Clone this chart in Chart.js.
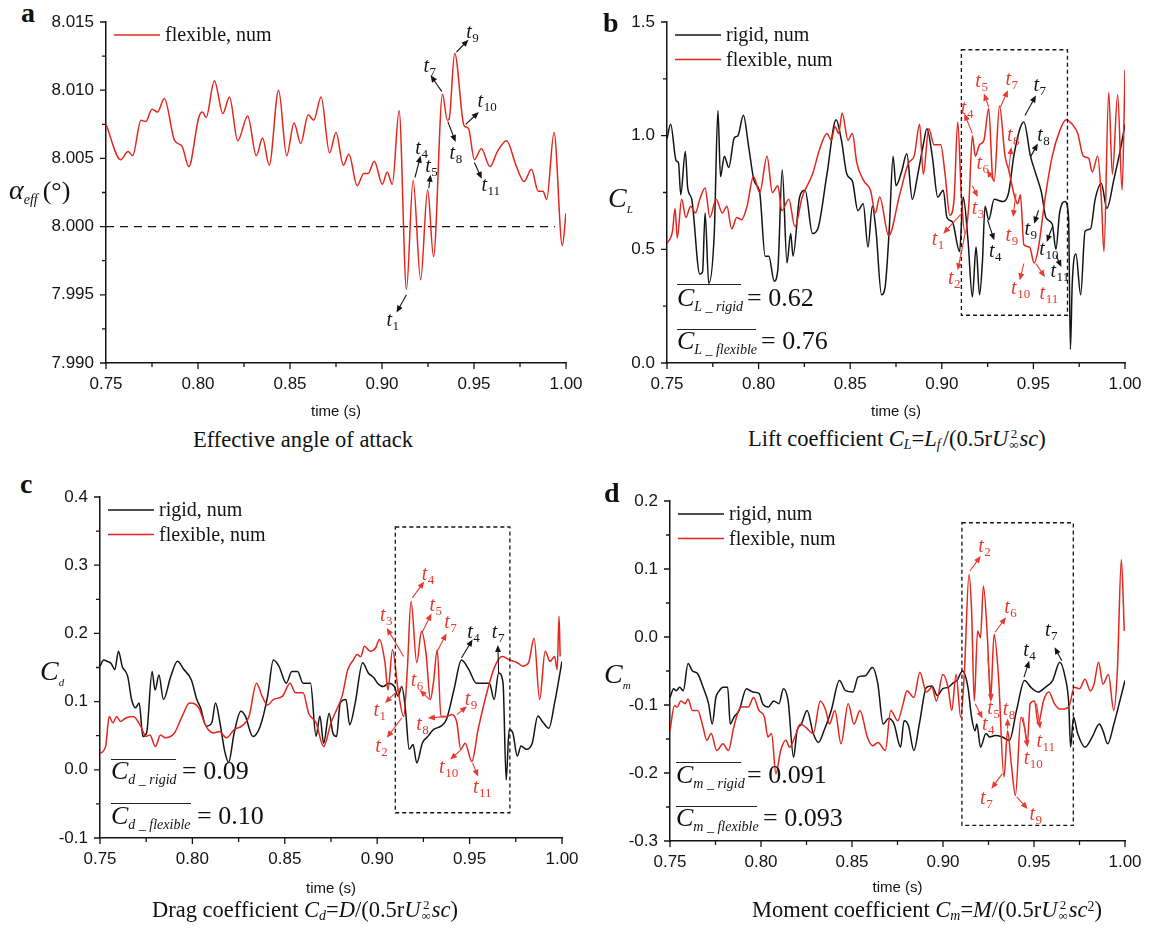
<!DOCTYPE html>
<html lang="en">
<head>
<meta charset="UTF-8">
<title>Effective angle of attack and force coefficients</title>
<script src="https://cdn.jsdelivr.net/npm/chart.js"></script>
<style>
  body { margin: 0; background: #fff; width: 1150px; height: 929px; position: relative; overflow: hidden; }
  canvas { position: absolute; }
  .t { position: absolute; font-family: "Liberation Serif", "Times New Roman", serif; color: #111; white-space: nowrap; line-height: 1; }
  .t sub { font-size: 0.62em; vertical-align: -0.25em; line-height: 0; }
  .t sup { font-size: 0.62em; vertical-align: 0.45em; line-height: 0; }
  .letter { font-weight: bold; font-size: 28px; }
  .cap { font-size: 22.5px; }
  .ov { position: absolute; height: 0; border-top: 1.3px solid #222; }
  .mean sub { font-size: 14px; vertical-align: -5px; font-style: italic; }
  .st { display: inline-flex; flex-direction: column; font-size: 13px; line-height: 11px; vertical-align: 8px; margin: 0 1px; text-align: center; }
</style>
</head>
<body>
<canvas id="chartA" width="550" height="425" style="left:40px;top:0px"></canvas>
<canvas id="chartB" width="548" height="425" style="left:600px;top:0px"></canvas>
<canvas id="chartC" width="556" height="432" style="left:34px;top:470px"></canvas>
<canvas id="chartD" width="544" height="431" style="left:604px;top:470px"></canvas>

<!-- panel letters -->
<div class="t letter" style="left:21px;top:-1px">a</div>
<div class="t letter" style="left:603px;top:9px">b</div>
<div class="t letter" style="left:20px;top:470px">c</div>
<div class="t letter" style="left:604px;top:479px">d</div>

<!-- axis names -->
<div class="t" style="left:9px;top:176px;font-size:28px"><i>α</i><sub style="font-size:14px;vertical-align:-5px"><i>eff</i></sub><span style="font-size:26px;margin-left:5px">(°)</span></div>
<div class="t" style="left:608px;top:184px;font-size:28px"><i>C</i><sub style="font-size:11px;vertical-align:-6px"><i>L</i></sub></div>
<div class="t" style="left:40px;top:657px;font-size:28px"><i>C</i><sub style="font-size:11px;vertical-align:-6px"><i>d</i></sub></div>
<div class="t" style="left:604px;top:660px;font-size:28px"><i>C</i><sub style="font-size:11px;vertical-align:-6px"><i>m</i></sub></div>

<!-- time-averaged values -->
<div class="ov" style="left:677px;top:284px;width:64px"></div>
<div class="t mean" style="left:677px;top:285px;font-size:26px"><i>C</i><sub>L _ rigid</sub></div>
<div class="t" style="left:747px;top:285px;font-size:26px">= 0.62</div>
<div class="ov" style="left:677px;top:329px;width:79px"></div>
<div class="t mean" style="left:677px;top:328px;font-size:26px"><i>C</i><sub>L _ flexible</sub></div>
<div class="t" style="left:761px;top:328px;font-size:26px">= 0.76</div>

<div class="ov" style="left:111px;top:759px;width:65px"></div>
<div class="t mean" style="left:111px;top:758px;font-size:26px"><i>C</i><sub>d _ rigid</sub></div>
<div class="t" style="left:182px;top:758px;font-size:26px">= 0.09</div>
<div class="ov" style="left:111px;top:803px;width:80px"></div>
<div class="t mean" style="left:111px;top:803px;font-size:26px"><i>C</i><sub>d _ flexible</sub></div>
<div class="t" style="left:197px;top:803px;font-size:26px">= 0.10</div>

<div class="ov" style="left:676px;top:762px;width:65px"></div>
<div class="t mean" style="left:676px;top:762px;font-size:26px"><i>C</i><sub>m _ rigid</sub></div>
<div class="t" style="left:747px;top:762px;font-size:26px">= 0.091</div>
<div class="ov" style="left:676px;top:806px;width:81px"></div>
<div class="t mean" style="left:676px;top:805px;font-size:26px"><i>C</i><sub>m _ flexible</sub></div>
<div class="t" style="left:763px;top:805px;font-size:26px">= 0.093</div>

<!-- captions -->
<div class="t cap" style="left:193px;top:429px">Effective angle of attack</div>
<div class="t cap" style="left:748px;top:428px">Lift coefficient <i>C<sub>L</sub></i>=<i>L<sub style="margin-right:2px">f</sub></i>/(0.5r<i>U</i><span class="st"><span>2</span><span>∞</span></span><i>sc</i>)</div>
<div class="t cap" style="left:152px;top:899px">Drag coefficient <i>C<sub>d</sub></i>=<i>D</i>/(0.5r<i>U</i><span class="st"><span>2</span><span>∞</span></span><i>sc</i>)</div>
<div class="t cap" style="left:752px;top:899px">Moment coefficient <i>C<sub>m</sub></i>=<i>M</i>/(0.5r<i>U</i><span class="st"><span>2</span><span>∞</span></span><i>sc</i><sup>2</sup>)</div>

<script>
// ---- series, [time (s), value] ----
const aFlexible = [[0.750,8.0075],[0.758,8.0049],[0.762,8.0055],[0.7645,8.0052],[0.769,8.0078],[0.7716,8.0077],[0.775,8.0086],[0.778,8.0084],[0.7817,8.0094],[0.7873,8.0063],[0.7913,8.0059],[0.795,8.0044],[0.8004,8.0080],[0.8024,8.0084],[0.8044,8.0080],[0.8089,8.0107],[0.8135,8.0083],[0.8171,8.0095],[0.8216,8.0063],[0.827,8.0081],[0.8317,8.0052],[0.8351,8.0065],[0.8387,8.0045],[0.8438,8.0100],[0.8482,8.0052],[0.8522,8.0076],[0.8558,8.0061],[0.8599,8.0082],[0.8629,8.0078],[0.8669,8.0095],[0.8715,8.0054],[0.875,8.0069],[0.879,8.0045],[0.882,8.0053],[0.8865,8.0030],[0.8901,8.0039],[0.8925,8.0039],[0.8958,8.0048],[0.9002,8.0031],[0.9028,8.0040],[0.9056,8.0031],[0.9093,8.0085],[0.9133,7.9954],[0.9169,8.0034],[0.921,7.9961],[0.9248,8.0027],[0.928,7.9978],[0.9329,8.0097],[0.9355,8.0078],[0.9365,8.0079],[0.9395,8.0127],[0.9446,8.0074],[0.947,8.0072],[0.9502,8.0049],[0.954,8.0057],[0.9587,8.0044],[0.9627,8.0055],[0.9677,8.0063],[0.9728,8.0045],[0.9772,8.0033],[0.9812,8.0042],[0.9849,8.0026],[0.9875,8.0026],[0.9895,8.0020],[0.9935,8.0069],[0.998,7.9986],[1.000,8.0010]];
const aReference = [[0.75,8.0],[0.994,8.0]];

const bRigid = [[0.750,0.987],[0.752,1.05],[0.755,0.89],[0.7563,0.88],[0.7575,0.74],[0.760,0.93],[0.7613,0.77],[0.7635,0.72],[0.7679,0.39],[0.7694,0.40],[0.7708,0.66],[0.7728,0.35],[0.7758,0.57],[0.7778,1.11],[0.7792,0.82],[0.7813,0.91],[0.7837,0.86],[0.7867,0.99],[0.7887,1.00],[0.7917,1.09],[0.7946,0.95],[0.7976,0.80],[0.8006,0.75],[0.8036,0.47],[0.8056,0.47],[0.8085,0.36],[0.8105,0.41],[0.8129,0.85],[0.8155,0.44],[0.8175,0.57],[0.8188,0.47],[0.8224,0.73],[0.8254,0.76],[0.8294,0.57],[0.8323,0.59],[0.8373,0.83],[0.8423,1.07],[0.8452,0.98],[0.8482,0.83],[0.8512,0.80],[0.8542,0.67],[0.8571,0.70],[0.8597,0.51],[0.8621,0.69],[0.8641,0.58],[0.8671,0.30],[0.8690,0.33],[0.8714,0.60],[0.8734,0.91],[0.8750,0.78],[0.8780,0.84],[0.8809,0.92],[0.8839,0.72],[0.8869,0.83],[0.8899,0.96],[0.8919,1.03],[0.8948,0.91],[0.8978,0.73],[0.9008,0.76],[0.9028,0.64],[0.9058,0.62],[0.9097,0.49],[0.9117,0.73],[0.9143,0.54],[0.9167,0.29],[0.9187,0.51],[0.9206,0.30],[0.9222,0.45],[0.9236,0.69],[0.9256,0.63],[0.9286,0.72],[0.9335,0.71],[0.9365,0.75],[0.9395,0.92],[0.9448,1.06],[0.9484,0.91],[0.9514,0.83],[0.9544,0.75],[0.9568,0.64],[0.9603,0.61],[0.9623,0.50],[0.9643,0.66],[0.9673,0.71],[0.9692,0.64],[0.9702,0.06],[0.9712,0.35],[0.9732,0.48],[0.9758,0.30],[0.9782,0.58],[0.9812,0.59],[0.9837,0.72],[0.9871,0.79],[0.9901,0.68],[0.9940,0.81],[0.9970,0.92],[1.000,1.05]];
const bFlexible = [[0.750,0.525],[0.753,0.58],[0.7544,0.68],[0.7556,0.55],[0.758,0.72],[0.7603,0.64],[0.7629,0.69],[0.7655,0.66],[0.7679,0.72],[0.7708,0.77],[0.7734,0.64],[0.7768,0.72],[0.7802,0.66],[0.7827,0.69],[0.7853,0.59],[0.7881,0.64],[0.7907,0.63],[0.7937,0.69],[0.7972,0.82],[0.8006,0.75],[0.8046,0.91],[0.8075,0.75],[0.8105,0.78],[0.8127,0.67],[0.8165,0.72],[0.8198,0.60],[0.8238,0.73],[0.8294,0.83],[0.8333,0.94],[0.8373,1.01],[0.8397,0.98],[0.8417,1.04],[0.8437,1.01],[0.8456,1.10],[0.8488,0.98],[0.8512,1.01],[0.8536,0.88],[0.8575,0.80],[0.8611,0.76],[0.8637,0.66],[0.8661,0.73],[0.8710,0.56],[0.8770,0.74],[0.8819,0.88],[0.8849,0.91],[0.8879,1.05],[0.8899,0.83],[0.8929,1.03],[0.8958,0.96],[0.8994,0.96],[0.9018,0.83],[0.9044,0.65],[0.9067,0.72],[0.9087,1.06],[0.9107,0.73],[0.9127,0.57],[0.9147,0.69],[0.9167,1.00],[0.9183,0.91],[0.9206,0.96],[0.9230,0.98],[0.9256,1.12],[0.9276,0.83],[0.9286,0.80],[0.9315,1.13],[0.9345,0.91],[0.9365,0.85],[0.9395,0.74],[0.9415,0.70],[0.9429,0.74],[0.9448,0.52],[0.9479,0.51],[0.9504,0.44],[0.9528,0.51],[0.9563,0.72],[0.9603,0.91],[0.9643,1.02],[0.9678,1.07],[0.9712,1.05],[0.9742,1.01],[0.9772,0.91],[0.9802,0.90],[0.9821,0.84],[0.9851,0.91],[0.9871,0.72],[0.9885,0.49],[0.9911,1.19],[0.9931,0.83],[0.9960,1.18],[0.9984,0.76],[1.000,1.29]];

const cRigid = [[0.750,0.152],[0.752,0.161],[0.754,0.159],[0.756,0.156],[0.758,0.147],[0.760,0.174],[0.762,0.152],[0.765,0.137],[0.7671,0.103],[0.7692,0.091],[0.7712,0.098],[0.7732,0.049],[0.7752,0.054],[0.7782,0.144],[0.7798,0.117],[0.7819,0.139],[0.7843,0.103],[0.7883,0.137],[0.7919,0.159],[0.7954,0.147],[0.7994,0.132],[0.8024,0.103],[0.8044,0.091],[0.8075,0.064],[0.8105,0.069],[0.8125,0.098],[0.8149,0.069],[0.8175,0.027],[0.8196,0.011],[0.8226,0.054],[0.8262,0.086],[0.8286,0.079],[0.8327,0.049],[0.8367,0.064],[0.8407,0.108],[0.8438,0.161],[0.8468,0.152],[0.8508,0.127],[0.8538,0.144],[0.8569,0.144],[0.8599,0.127],[0.8639,0.127],[0.8669,0.049],[0.8690,0.079],[0.8710,0.039],[0.8740,0.083],[0.8760,0.054],[0.8780,0.049],[0.8800,0.098],[0.8831,0.103],[0.8851,0.066],[0.8881,0.098],[0.8921,0.157],[0.8952,0.142],[0.8982,0.135],[0.9002,0.127],[0.9032,0.122],[0.9062,0.127],[0.9093,0.122],[0.9113,0.108],[0.9133,0.122],[0.9153,0.088],[0.9173,0.030],[0.9194,0.037],[0.9214,0.010],[0.9244,0.039],[0.9274,0.049],[0.9304,0.059],[0.9345,0.064],[0.9375,0.074],[0.9415,0.117],[0.9456,0.161],[0.9496,0.147],[0.9536,0.127],[0.9577,0.127],[0.9607,0.127],[0.9633,0.103],[0.9657,0.142],[0.9681,0.127],[0.9698,-0.015],[0.9714,0.059],[0.9734,0.054],[0.9758,0.020],[0.9778,0.035],[0.9808,0.030],[0.9839,0.039],[0.9869,0.079],[0.9899,0.069],[0.9929,0.061],[0.9960,0.098],[1.000,0.159]];
const cFlexible = [[0.750,0.024],[0.753,0.034],[0.755,0.078],[0.757,0.069],[0.759,0.078],[0.761,0.071],[0.764,0.076],[0.768,0.078],[0.772,0.064],[0.775,0.049],[0.777,0.051],[0.780,0.034],[0.7827,0.051],[0.7853,0.047],[0.7903,0.054],[0.7944,0.078],[0.7984,0.098],[0.8034,0.091],[0.8065,0.069],[0.8085,0.059],[0.8115,0.054],[0.8145,0.056],[0.8185,0.047],[0.8226,0.059],[0.8266,0.064],[0.8306,0.078],[0.8347,0.127],[0.8377,0.108],[0.8407,0.095],[0.8438,0.103],[0.8488,0.108],[0.8528,0.127],[0.8558,0.113],[0.8599,0.113],[0.8629,0.083],[0.8669,0.069],[0.8710,0.034],[0.8750,0.069],[0.8780,0.088],[0.8810,0.108],[0.8841,0.147],[0.8871,0.161],[0.8891,0.169],[0.8911,0.166],[0.8931,0.181],[0.8962,0.174],[0.8992,0.179],[0.9012,0.191],[0.9042,0.157],[0.9058,0.117],[0.9083,0.176],[0.9113,0.117],[0.9143,0.078],[0.9163,0.147],[0.9183,0.247],[0.9214,0.157],[0.9240,0.203],[0.9264,0.171],[0.9288,0.103],[0.9304,0.127],[0.9325,0.176],[0.9345,0.078],[0.9375,0.078],[0.9405,0.081],[0.9431,0.069],[0.9452,0.030],[0.9476,0.039],[0.9512,0.012],[0.9546,0.059],[0.9597,0.117],[0.9637,0.152],[0.9677,0.166],[0.9718,0.161],[0.9758,0.157],[0.9788,0.152],[0.9819,0.157],[0.9849,0.193],[0.9879,0.103],[0.9909,0.174],[0.9935,0.159],[0.9960,0.166],[0.9974,0.147],[0.9984,0.225],[0.9990,0.166]];

const dRigid = [[0.750,-0.089],[0.752,-0.076],[0.7534,-0.079],[0.7553,-0.074],[0.7573,-0.079],[0.7599,-0.039],[0.7623,-0.050],[0.7652,-0.054],[0.7682,-0.074],[0.7712,-0.098],[0.7732,-0.128],[0.7752,-0.089],[0.7771,-0.079],[0.7791,-0.074],[0.7817,-0.074],[0.7831,-0.128],[0.7851,-0.118],[0.7880,-0.108],[0.7920,-0.076],[0.7955,-0.081],[0.7989,-0.083],[0.8009,-0.098],[0.8040,-0.103],[0.8070,-0.094],[0.8099,-0.098],[0.8123,-0.076],[0.8149,-0.094],[0.8179,-0.177],[0.8198,-0.138],[0.8222,-0.128],[0.8253,-0.108],[0.8287,-0.142],[0.8316,-0.155],[0.8346,-0.138],[0.8386,-0.108],[0.8431,-0.064],[0.8465,-0.079],[0.8505,-0.081],[0.8533,-0.059],[0.8573,-0.057],[0.8612,-0.045],[0.8642,-0.069],[0.8671,-0.128],[0.8701,-0.120],[0.8731,-0.128],[0.8767,-0.162],[0.8786,-0.123],[0.8810,-0.130],[0.8840,-0.167],[0.8870,-0.128],[0.8909,-0.074],[0.8939,-0.072],[0.8969,-0.086],[0.8999,-0.076],[0.9028,-0.074],[0.9058,-0.067],[0.9077,-0.064],[0.9107,-0.050],[0.9137,-0.074],[0.9157,-0.118],[0.9176,-0.138],[0.9186,-0.128],[0.9206,-0.162],[0.9236,-0.142],[0.9256,-0.147],[0.9286,-0.145],[0.9325,-0.147],[0.9365,-0.152],[0.9404,-0.108],[0.9448,-0.064],[0.9483,-0.074],[0.9523,-0.081],[0.9562,-0.074],[0.9602,-0.064],[0.9642,-0.037],[0.9671,-0.059],[0.9691,-0.098],[0.9701,-0.162],[0.9717,-0.118],[0.9740,-0.142],[0.9780,-0.162],[0.9820,-0.147],[0.9859,-0.128],[0.9879,-0.138],[0.9905,-0.157],[0.9939,-0.128],[0.9968,-0.098],[1.000,-0.064]];
const dFlexible = [[0.750,-0.138],[0.7524,-0.101],[0.754,-0.103],[0.7559,-0.094],[0.7583,-0.098],[0.7599,-0.091],[0.7623,-0.108],[0.7652,-0.108],[0.7682,-0.133],[0.7702,-0.152],[0.7726,-0.142],[0.7757,-0.167],[0.7791,-0.157],[0.7821,-0.167],[0.7850,-0.133],[0.7890,-0.103],[0.7930,-0.103],[0.7959,-0.089],[0.7989,-0.108],[0.8019,-0.118],[0.8038,-0.147],[0.8058,-0.142],[0.8082,-0.201],[0.8108,-0.167],[0.8137,-0.152],[0.8157,-0.162],[0.8186,-0.147],[0.8216,-0.128],[0.8246,-0.133],[0.8287,-0.142],[0.8326,-0.094],[0.8356,-0.108],[0.8376,-0.128],[0.8406,-0.108],[0.8440,-0.157],[0.8479,-0.098],[0.8511,-0.128],[0.8544,-0.108],[0.8584,-0.147],[0.8614,-0.160],[0.8643,-0.155],[0.8683,-0.167],[0.8713,-0.108],[0.8751,-0.123],[0.8781,-0.098],[0.8802,-0.079],[0.8840,-0.089],[0.8873,-0.052],[0.8909,-0.081],[0.8939,-0.074],[0.8964,-0.094],[0.8999,-0.055],[0.9028,-0.074],[0.9048,-0.108],[0.9072,-0.055],[0.9097,-0.118],[0.9117,-0.055],[0.9143,0.092],[0.9157,0.039],[0.9172,-0.094],[0.9190,0.009],[0.9206,-0.001],[0.9222,0.075],[0.9246,-0.011],[0.9261,-0.094],[0.9281,0.004],[0.9305,-0.059],[0.9335,-0.206],[0.9355,-0.138],[0.9375,-0.186],[0.9398,-0.233],[0.9428,-0.118],[0.9448,-0.133],[0.9463,-0.157],[0.9479,-0.098],[0.9503,-0.094],[0.9523,-0.128],[0.9552,-0.094],[0.9582,-0.081],[0.9612,-0.098],[0.9642,-0.106],[0.9691,-0.103],[0.9721,-0.074],[0.9750,-0.076],[0.9780,-0.062],[0.9810,-0.079],[0.9830,-0.069],[0.9855,-0.037],[0.9879,-0.069],[0.9909,-0.055],[0.9938,-0.108],[0.9958,-0.050],[0.9980,0.114],[0.9996,0.009]];

// ---- instant markers: [index, from t, from v, to t, to v, label t, label v] ----
const aTags = [['1',0.9133,7.9950,0.9079,7.9937,0.9057,7.9931],['4',0.9179,8.0036,0.9210,8.0052,0.9214,8.0057],['5',0.9254,8.0028,0.9264,8.0038,0.9268,8.0044],['7',0.9325,8.0099,0.9264,8.0111,0.9258,8.0117],['8',0.9358,8.0077,0.9400,8.0062,0.9400,8.0053],['9',0.9405,8.0128,0.9470,8.0137,0.9490,8.0142],['10',0.9455,8.0075,0.9526,8.0084,0.9570,8.0091],['11',0.9502,8.0047,0.9542,8.0035,0.9590,8.0030]];
const bTagsFlexible = [['1',0.9107,0.657,0.9008,0.569,0.8978,0.54],['2',0.9127,0.569,0.9087,0.408,0.9067,0.371],['3',0.9167,0.78,0.9196,0.73,0.9196,0.679],['4',0.9167,1.009,0.9123,1.097,0.9137,1.119],['5',0.9256,1.126,0.9230,1.185,0.9216,1.236],['6',0.9286,0.80,0.9246,0.848,0.9222,0.877],['7',0.9320,1.126,0.9361,1.20,0.9380,1.243],['8',0.9365,0.848,0.9379,0.95,0.9389,1.00],['9',0.9405,0.745,0.9389,0.642,0.9381,0.56],['10',0.9448,0.437,0.9425,0.364,0.9429,0.327],['11',0.9514,0.437,0.9563,0.378,0.9583,0.305]];
const bTagsRigid = [['4',0.9250,0.628,0.9286,0.54,0.9290,0.488],['7',0.9454,1.089,0.9514,1.177,0.9533,1.217],['8',0.9484,0.906,0.9524,0.965,0.9554,1.0],['9',0.9528,0.672,0.9504,0.613,0.9484,0.584],['10',0.9603,0.598,0.9573,0.532,0.9583,0.496],['11',0.9623,0.474,0.9653,0.422,0.9643,0.40]];
const cTagsFlexible = [['1',0.9133,0.122,0.9042,0.098,0.9012,0.086],['2',0.9133,0.076,0.9052,0.047,0.9022,0.034],['3',0.9143,0.166,0.9052,0.208,0.9048,0.225],['4',0.9190,0.252,0.9254,0.276,0.9274,0.286],['5',0.9240,0.200,0.9294,0.229,0.9315,0.240],['6',0.9284,0.103,0.9230,0.117,0.9214,0.130],['7',0.9325,0.174,0.9375,0.200,0.9395,0.215],['8',0.9375,0.078,0.9274,0.076,0.9244,0.066],['9',0.9431,0.081,0.9486,0.093,0.9506,0.103],['10',0.9456,0.030,0.9395,0.015,0.9385,0.003],['11',0.9516,0.010,0.9546,-0.010,0.9567,-0.027]];
const cTagsRigid = [['4',0.9456,0.164,0.9516,0.191,0.9520,0.200],['7',0.9657,0.142,0.9653,0.183,0.9653,0.200]];
const dTagsFlexible = [['2',0.9148,0.097,0.9207,0.119,0.9227,0.132],['4',0.9177,-0.098,0.9217,-0.120,0.9247,-0.130],['5',0.9246,-0.030,0.9266,-0.094,0.9276,-0.106],['6',0.9286,0.007,0.9346,0.029,0.9370,0.043],['7',0.9326,-0.201,0.9266,-0.223,0.9237,-0.238],['8',0.9355,-0.135,0.9355,-0.120,0.9361,-0.108],['9',0.9405,-0.235,0.9465,-0.253,0.9508,-0.262],['10',0.9440,-0.118,0.9465,-0.162,0.9494,-0.179],['11',0.9514,-0.098,0.9534,-0.135,0.9563,-0.155]];
const dTagsRigid = [['4',0.9445,-0.059,0.9474,-0.035,0.9474,-0.020],['7',0.9653,-0.035,0.9613,-0.015,0.9593,0.009]];

// dashed windows [t0, t1, v0, v1]
const bWindow = [0.9107, 0.9686, 0.21, 1.378];
const cWindow = [0.9098, 0.9718, -0.063, 0.356];
const dWindow = [0.9104, 0.9716, -0.277, 0.168];

const RED = 'rgb(228,38,30)';
const RED_TAG = 'rgb(232,58,48)';
const BLACK = '#141414';
const SERIF = '"Liberation Serif", "Times New Roman", serif';
const SANS = '"Liberation Sans", Arial, sans-serif';

function pts(arr) { return arr.map(p => ({x: p[0], y: p[1]})); }

function drawTag(ctx, xs, ys, t, color) {
  const [n, x0, y0, x1, y1, lx, ly] = t;
  const ax = xs.getPixelForValue(x0), ay = ys.getPixelForValue(y0);
  const bx = xs.getPixelForValue(x1), by = ys.getPixelForValue(y1);
  const a = Math.atan2(by - ay, bx - ax), c = Math.cos(a), s = Math.sin(a);
  ctx.strokeStyle = color; ctx.fillStyle = color; ctx.lineWidth = 1.1;
  ctx.beginPath(); ctx.moveTo(ax, ay); ctx.lineTo(bx - 4 * c, by - 4 * s); ctx.stroke();
  ctx.beginPath();
  ctx.moveTo(bx, by);
  ctx.lineTo(bx - 7 * c + 3 * s, by - 7 * s - 3 * c);
  ctx.lineTo(bx - 7 * c - 3 * s, by - 7 * s + 3 * c);
  ctx.closePath(); ctx.fill();

  const px = xs.getPixelForValue(lx), py = ys.getPixelForValue(ly);
  ctx.font = 'italic 20px ' + SERIF; const wt = ctx.measureText('t').width;
  ctx.font = '13px ' + SERIF; const ws = ctx.measureText(n).width;
  const left = px - (wt + ws) / 2;
  ctx.textAlign = 'left'; ctx.textBaseline = 'alphabetic';
  ctx.font = 'italic 20px ' + SERIF; ctx.fillText('t', left, py + 5);
  ctx.font = '13px ' + SERIF; ctx.fillText(n, left + wt + 0.5, py + 9);
}

// tick marks, dashed window, markers and the legend
const extras = {
  id: 'extras',
  afterDatasetsDraw(chart, args, o) {
    const {ctx, chartArea: ca, scales: {x, y}} = chart;
    ctx.save();
    ctx.strokeStyle = BLACK; ctx.lineWidth = 1.3;
    const xt = x.ticks.map(t => t.value), yt = y.ticks.map(t => t.value);
    ctx.beginPath();
    xt.forEach((v, i) => {
      const px = x.getPixelForValue(v);
      ctx.moveTo(px, ca.bottom); ctx.lineTo(px, ca.bottom + 6);
      if (i < xt.length - 1) {
        const pm = x.getPixelForValue((v + xt[i + 1]) / 2);
        ctx.moveTo(pm, ca.bottom); ctx.lineTo(pm, ca.bottom + 4);
      }
    });
    yt.forEach((v, i) => {
      const py = y.getPixelForValue(v);
      ctx.moveTo(ca.left, py); ctx.lineTo(ca.left - 6, py);
      if (i < yt.length - 1) {
        const pm = y.getPixelForValue((v + yt[i + 1]) / 2);
        ctx.moveTo(ca.left, pm); ctx.lineTo(ca.left - 4, pm);
      }
    });
    ctx.stroke();

    if (o.window) {
      const [t0, t1, v0, v1] = o.window;
      const l = x.getPixelForValue(t0), r = x.getPixelForValue(t1);
      const top = y.getPixelForValue(v1), bot = y.getPixelForValue(v0);
      ctx.setLineDash([4, 3]); ctx.lineWidth = 1.3; ctx.strokeStyle = BLACK;
      ctx.strokeRect(l, top, r - l, bot - top);
      ctx.setLineDash([]);
    }

    (o.tags || []).forEach(g => g.list.forEach(t => drawTag(ctx, x, y, t, g.color)));

    let row = 0;
    chart.data.datasets.forEach(ds => {
      if (!ds.label) return;
      const yy = ca.top + 13 + row * 24.5;
      ctx.strokeStyle = ds.borderColor; ctx.lineWidth = 1.6;
      ctx.beginPath(); ctx.moveTo(ca.left + 8, yy); ctx.lineTo(ca.left + 54, yy); ctx.stroke();
      ctx.fillStyle = BLACK; ctx.font = '20px ' + SERIF;
      ctx.textAlign = 'left'; ctx.textBaseline = 'middle';
      ctx.fillText(ds.label, ca.left + 59, yy + 1);
      row++;
    });
    ctx.restore();
  }
};

function panel(id, p) {
  return new Chart(document.getElementById(id), {
    type: 'line',
    data: { datasets: p.datasets },
    options: {
      responsive: false,
      animation: false,
      layout: { padding: p.padding },
      elements: {
        point: { radius: 0 },
        line: { borderWidth: 1.5, cubicInterpolationMode: 'monotone' }
      },
      plugins: {
        legend: { display: false },
        tooltip: { enabled: false },
        extras: { window: p.window, tags: p.tags }
      },
      scales: {
        x: {
          type: 'linear', min: 0.75, max: 1.0,
          ticks: { stepSize: 0.05, autoSkip: false, maxRotation: 0, padding: 5, color: BLACK,
                   font: { family: SANS, size: 17 }, callback: v => v.toFixed(2) },
          grid: { display: false, drawTicks: true, tickLength: 6 },
          border: { display: true, color: BLACK, width: 1.5 },
          title: { display: true, text: 'time (s)', color: BLACK, font: { family: SANS, size: 15 },
                   padding: { top: 0, bottom: p.titlePad } },
          afterFit: s => { s.height = p.xh; s.paddingLeft = 0; s.paddingRight = 0; }
        },
        y: {
          type: 'linear', min: p.ymin, max: p.ymax,
          ticks: { stepSize: p.step, autoSkip: false, padding: 6, color: BLACK,
                   font: { family: SANS, size: 17 }, callback: v => v.toFixed(p.dec) },
          grid: { display: false, drawTicks: true, tickLength: 6 },
          border: { display: true, color: BLACK, width: 1.5 },
          afterFit: s => { s.width = p.yw; s.paddingTop = 0; s.paddingBottom = 0; }
        }
      }
    },
    plugins: [extras]
  });
}

function series(label, data, color, order, extra) {
  return Object.assign({ label, data: pts(data), borderColor: color, order, fill: false }, extra || {});
}

panel('chartA', {
  padding: { left: 0, top: 22, right: 24, bottom: 0 }, yw: 66, xh: 62, titlePad: 4,
  ymin: 7.99, ymax: 8.015, step: 0.005, dec: 3,
  datasets: [
    series('flexible, num', aFlexible, RED, 0),
    series('', aReference, BLACK, 1, { borderDash: [8, 6], borderWidth: 1.3, cubicInterpolationMode: 'default', tension: 0 })
  ],
  tags: [{ color: BLACK, list: aTags }]
});

panel('chartB', {
  padding: { left: 0, top: 22, right: 23, bottom: 0 }, yw: 67, xh: 62, titlePad: 4,
  ymin: 0, ymax: 1.5, step: 0.5, dec: 1,
  datasets: [series('rigid, num', bRigid, BLACK, 1), series('flexible, num', bFlexible, RED, 0)],
  window: bWindow,
  tags: [{ color: RED_TAG, list: bTagsFlexible }, { color: BLACK, list: bTagsRigid }]
});

panel('chartC', {
  padding: { left: 0, top: 27, right: 28, bottom: 0 }, yw: 66, xh: 64, titlePad: 4,
  ymin: -0.1, ymax: 0.4, step: 0.1, dec: 1,
  datasets: [series('rigid, num', cRigid, BLACK, 1), series('flexible, num', cFlexible, RED, 0)],
  window: cWindow,
  tags: [{ color: RED_TAG, list: cTagsFlexible }, { color: BLACK, list: cTagsRigid }]
});

panel('chartD', {
  padding: { left: 0, top: 31, right: 23, bottom: 0 }, yw: 66, xh: 60, titlePad: 4,
  ymin: -0.3, ymax: 0.2, step: 0.1, dec: 1,
  datasets: [series('rigid, num', dRigid, BLACK, 1), series('flexible, num', dFlexible, RED, 0)],
  window: dWindow,
  tags: [{ color: RED_TAG, list: dTagsFlexible }, { color: BLACK, list: dTagsRigid }]
});
</script>
</body>
</html>
